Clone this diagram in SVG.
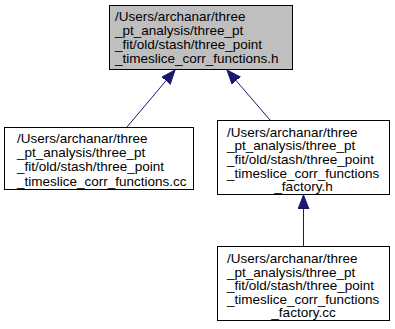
<svg xmlns="http://www.w3.org/2000/svg" width="395" height="329" viewBox="0 0 395 329">
<style>
  .box { fill: #ffffff; stroke: #000000; stroke-width: 1; }
  .cur { fill: #bfbfbf; }
  .lbl { font-family: "Liberation Sans", Arial, sans-serif; font-size: 13.5px; fill: #000000; }
  .edge { stroke: #191970; stroke-width: 1; fill: none; }
</style>
<defs>
  <marker id="arrow" markerWidth="14" markerHeight="12" viewBox="0 0 14 12" refX="14" refY="6" orient="auto" markerUnits="userSpaceOnUse">
    <path d="M0,0.5 L14,6 L0,11.5 Z" fill="#191970" stroke="#191970"/>
  </marker>
</defs>
<rect width="395" height="329" fill="#ffffff"/>

<g id="connectors">
  <line class="edge" x1="127" y1="127" x2="175" y2="70" marker-end="url(#arrow)"/>
  <line class="edge" x1="270" y1="120" x2="227" y2="70" marker-end="url(#arrow)"/>
  <line class="edge" x1="303.5" y1="246" x2="303.5" y2="195" marker-end="url(#arrow)"/>
</g>

<g id="node_h">
  <rect class="box cur" x="109.5" y="5.5" width="183" height="64"/>
  <text class="lbl" x="115" y="20.5">/Users/archanar/three</text>
  <text class="lbl" x="115" y="34.7">_pt_analysis/three_pt</text>
  <text class="lbl" x="115" y="48.9">_fit/old/stash/three_point</text>
  <text class="lbl" x="115" y="63">_timeslice_corr_functions.h</text>
</g>

<g id="node_cc">
  <rect class="box" x="4.5" y="127.5" width="189" height="62"/>
  <text class="lbl" x="17" y="143">/Users/archanar/three</text>
  <text class="lbl" x="17" y="157.2">_pt_analysis/three_pt</text>
  <text class="lbl" x="17" y="171.4">_fit/old/stash/three_point</text>
  <text class="lbl" x="17" y="185.6">_timeslice_corr_functions.cc</text>
</g>

<g id="node_factory_h">
  <rect class="box" x="217.5" y="120.5" width="172" height="74"/>
  <text class="lbl" x="227" y="136.5">/Users/archanar/three</text>
  <text class="lbl" x="227" y="150.2">_pt_analysis/three_pt</text>
  <text class="lbl" x="227" y="164">_fit/old/stash/three_point</text>
  <text class="lbl" x="227" y="177.7">_timeslice_corr_functions</text>
  <text class="lbl" x="303.5" y="191.4" text-anchor="middle">_factory.h</text>
</g>

<g id="node_factory_cc">
  <rect class="box" x="217.5" y="246.5" width="172" height="74"/>
  <text class="lbl" x="227" y="263">/Users/archanar/three</text>
  <text class="lbl" x="227" y="276.5">_pt_analysis/three_pt</text>
  <text class="lbl" x="227" y="290">_fit/old/stash/three_point</text>
  <text class="lbl" x="227" y="303.5">_timeslice_corr_functions</text>
  <text class="lbl" x="303.5" y="317" text-anchor="middle">_factory.cc</text>
</g>
</svg>
